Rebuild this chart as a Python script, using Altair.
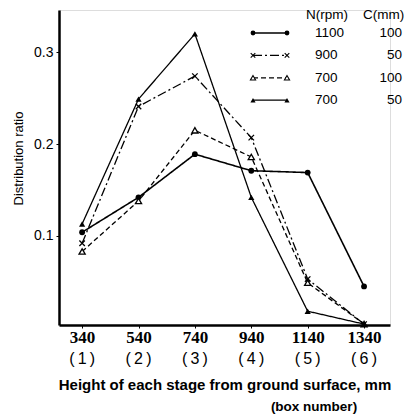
import altair as alt
import pandas as pd

heights = [340, 540, 740, 940, 1140, 1340]
box_labels = ["(1)", "(2)", "(3)", "(4)", "(5)", "(6)"]
series_names = ["1100/100", "900/50", "700/100", "700/50"]
n_rpm = ["1100", "900", "700", "700"]
c_mm = ["100", "50", "100", "50"]
r_1100_100 = [0.104, 0.142, 0.189, 0.171, 0.169, 0.045]
r_900_50 = [0.092, 0.241, 0.274, 0.207, 0.053, 0.004]
r_700_100 = [0.083, 0.138, 0.215, 0.186, 0.049, 0.004]
r_700_50 = [0.113, 0.249, 0.320, 0.142, 0.018, 0.004]
values = [r_1100_100, r_900_50, r_700_100, r_700_50]

rows = []
for name, vals in zip(series_names, values):
    for h, v in zip(heights, vals):
        rows.append({"series": name, "height": h, "ratio": v})
df = pd.DataFrame(rows)
box_df = pd.DataFrame({"height": heights, "box": box_labels})

W, H = 331, 315
xscale = alt.Scale(domain=[258, 1432], nice=False, zero=False)
yscale = alt.Scale(domain=[0.003, 0.346], nice=False, zero=False)

xcross = "M-1,-1L1,1M-1,1L1,-1"
styles = [
    dict(dash=[1, 0], width=1.6, shape="circle", filled=True, size=34),
    dict(dash=[9, 3, 2, 3], width=1.3, shape=xcross, filled=False, size=30),
    dict(dash=[5, 3], width=1.3, shape="triangle-up", filled=False, size=38),
    dict(dash=[1, 0], width=1.3, shape="triangle-up", filled=True, size=38),
]

base = alt.Chart(df)
layers = []
for i, (name, st) in enumerate(zip(series_names, styles)):
    sub = base.transform_filter(alt.datum.series == name)
    x = alt.X("height:Q", scale=xscale)
    y = alt.Y("ratio:Q", scale=yscale)
    layers.append(
        sub.mark_line(color="black", strokeWidth=st["width"], strokeDash=st["dash"]).encode(x=x, y=y)
    )
    layers.append(
        sub.mark_point(color="black", shape=st["shape"], filled=st["filled"], size=st["size"],
                       strokeWidth=1.3, opacity=1, fill="black" if st["filled"] else "white")
        .encode(x=x, y=y)
    )
    # legend row
    ly = 23 + 22.4 * i
    one = alt.Chart(pd.DataFrame({"series": [name], "n": [n_rpm[i]], "c": [c_mm[i]]}))
    layers.append(
        one.mark_rule(color="black", strokeWidth=st["width"], strokeDash=st["dash"])
        .encode(x=alt.value(194), x2=alt.value(228), y=alt.value(ly))
    )
    for px in (194, 228):
        layers.append(
            one.mark_point(color="black", shape=st["shape"], filled=st["filled"], size=st["size"] * 0.7,
                           strokeWidth=1.1, opacity=1, fill="black" if st["filled"] else "white")
            .encode(x=alt.value(px), y=alt.value(ly))
        )
    layers.append(
        one.mark_text(align="left", baseline="middle", fontSize=13.5, font="Liberation Sans", color="black")
        .encode(x=alt.value(256), y=alt.value(ly), text="n:N")
    )
    layers.append(
        one.mark_text(align="right", baseline="middle", fontSize=13.5, font="Liberation Sans", color="black")
        .encode(x=alt.value(343), y=alt.value(ly), text="c:N")
    )

hdr = alt.Chart(pd.DataFrame({"t": ["N(rpm)", "C(mm)"], "px": [247, 304]})).mark_text(
    align="left", baseline="middle", fontSize=13.5, font="Liberation Sans", color="black"
).encode(x=alt.X("px:Q", scale=None), y=alt.value(5), text="t:N")
layers.append(hdr)

box = alt.Chart(box_df).transform_calculate(
    spaced="replace(replace(datum.box, '(', '(\u2009'), ')', '\u2009)')"
).mark_text(
    baseline="middle", fontSize=16, font="Liberation Sans", color="black"
).encode(x=alt.X("height:Q", scale=xscale), y=alt.value(H + 34), text="spaced:N")
layers.append(box)

boxnum = alt.Chart(pd.DataFrame({"t": ["(box number)"]})).mark_text(
    baseline="middle", fontSize=13.5, fontWeight="bold", font="Liberation Sans", color="black"
).encode(x=alt.value(314 - 59), y=alt.value(397), text="t:N")
layers.append(boxnum)

axis_layer = alt.Chart(df).mark_point(opacity=0).encode(
    x=alt.X("height:Q", scale=xscale,
            axis=alt.Axis(values=heights, format="d", title="Height of each stage from ground surface, mm",
                          labelFont="Liberation Serif", labelFontWeight="bold", labelFontSize=17,
                          labelColor="black", labelPadding=1, tickSize=3, tickColor="black",
                          domainColor="black", domainWidth=2.5, grid=False,
                          titleFont="Liberation Sans", titleFontWeight="bold", titleFontSize=15,
                          titleColor="black", titlePadding=32)),
    y=alt.Y("ratio:Q", scale=yscale,
            axis=alt.Axis(values=[0.1, 0.2, 0.3], format=".1f", title="Distribution ratio",
                          labelFont="Liberation Sans", labelFontSize=14, labelColor="black",
                          labelPadding=3, tickSize=3, tickColor="black",
                          domainColor="black", domainWidth=2.5, grid=False,
                          titleFont="Liberation Sans", titleFontSize=13, titleColor="black",
                          titleFontWeight="normal", titleX=-41, titleY=148, titleAngle=-90,
                          titleAlign="center", titleBaseline="middle")),
)

chart = alt.layer(axis_layer, *layers).properties(
    width=W, height=H,
    autosize=alt.AutoSizeParams(type="none"),
    padding={"left": 51, "top": 2, "right": 22, "bottom": 92},
).configure_view(stroke=None).configure(background="white")

chart.save("out.html", embed_options={"renderer": "svg", "actions": False})
